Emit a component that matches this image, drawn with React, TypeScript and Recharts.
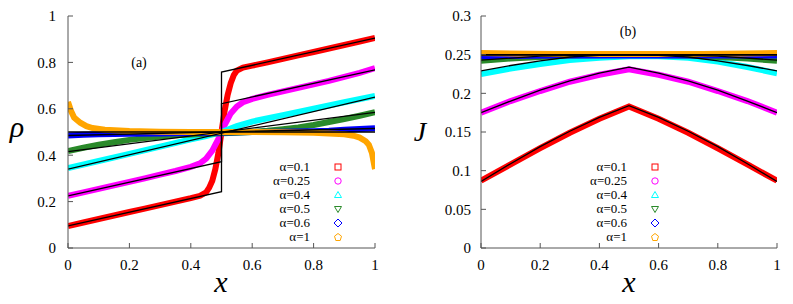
import React from "react";
import { ComposedChart, Line, XAxis, YAxis, Legend } from "recharts";

const SERIF = "Liberation Serif, Times New Roman, Tinos, Times, Noto Serif, DejaVu Serif, serif";

const alphaLabels = ["α=0.1", "α=0.25", "α=0.4", "α=0.5", "α=0.6", "α=1"];
const seriesColors = ["#ff0000", "#ff00ff", "#00ffff", "#2a8a2a", "#0000ff", "#ffa500"];
const markerShapes = ["square", "circle", "triangle", "triangleDown", "diamond", "pentagon"];

const xTicks = [0, 0.2, 0.4, 0.6, 0.8, 1];
const rhoTicks = [0, 0.2, 0.4, 0.6, 0.8, 1];
const jTicks = [0, 0.05, 0.1, 0.15, 0.2, 0.25, 0.3];

// (a) density profiles, simulation
const rho01 = [[0, 0.095], [0.05, 0.11], [0.1, 0.125], [0.15, 0.14], [0.2, 0.155], [0.25, 0.17], [0.3, 0.185], [0.35, 0.2], [0.4, 0.215], [0.43, 0.225], [0.45, 0.24], [0.46, 0.26], [0.47, 0.29], [0.48, 0.34], [0.49, 0.41], [0.5, 0.5], [0.51, 0.59], [0.52, 0.66], [0.53, 0.71], [0.54, 0.745], [0.55, 0.765], [0.57, 0.778], [0.6, 0.786], [0.65, 0.8], [0.7, 0.815], [0.75, 0.83], [0.8, 0.845], [0.85, 0.86], [0.9, 0.875], [0.95, 0.89], [1, 0.905]];
const rho025 = [[0, 0.225], [0.05, 0.24], [0.1, 0.255], [0.15, 0.27], [0.2, 0.285], [0.25, 0.3], [0.3, 0.316], [0.35, 0.332], [0.4, 0.35], [0.43, 0.365], [0.45, 0.385], [0.47, 0.42], [0.48, 0.445], [0.49, 0.47], [0.5, 0.5], [0.51, 0.53], [0.52, 0.555], [0.53, 0.58], [0.55, 0.61], [0.57, 0.628], [0.6, 0.643], [0.65, 0.66], [0.7, 0.675], [0.75, 0.69], [0.8, 0.705], [0.85, 0.72], [0.9, 0.738], [0.95, 0.755], [1, 0.775]];
const rho04 = [[0, 0.345], [0.1, 0.375], [0.2, 0.406], [0.3, 0.437], [0.4, 0.468], [0.45, 0.482], [0.5, 0.5], [0.55, 0.525], [0.6, 0.545], [0.7, 0.573], [0.8, 0.6], [0.9, 0.628], [1, 0.655]];
const rho05 = [[0, 0.418], [0.05, 0.432], [0.1, 0.445], [0.15, 0.456], [0.2, 0.466], [0.25, 0.474], [0.3, 0.481], [0.35, 0.486], [0.4, 0.489], [0.45, 0.492], [0.5, 0.495], [0.55, 0.497], [0.6, 0.5], [0.65, 0.505], [0.7, 0.512], [0.75, 0.52], [0.8, 0.53], [0.85, 0.543], [0.9, 0.556], [0.95, 0.57], [1, 0.585]];
const rho06 = [[0, 0.485], [0.05, 0.488], [0.1, 0.49], [0.2, 0.492], [0.3, 0.494], [0.4, 0.496], [0.5, 0.498], [0.6, 0.5], [0.7, 0.501], [0.8, 0.503], [0.85, 0.505], [0.9, 0.51], [0.95, 0.513], [1, 0.516]];
const rho1 = [[0, 0.63], [0.005, 0.61], [0.01, 0.59], [0.02, 0.562], [0.04, 0.54], [0.06, 0.525], [0.08, 0.517], [0.12, 0.51], [0.2, 0.504], [0.3, 0.501], [0.4, 0.5], [0.5, 0.5], [0.6, 0.5], [0.7, 0.499], [0.8, 0.497], [0.85, 0.494], [0.9, 0.49], [0.93, 0.484], [0.95, 0.476], [0.97, 0.46], [0.98, 0.445], [0.99, 0.41], [1, 0.34]];

// (a) theory
const rhoTh01 = [[0, 0.095], [0.5, 0.243], [0.5, 0.758], [1, 0.905]];
const rhoTh025 = [[0, 0.225], [0.5, 0.372], [0.5, 0.622], [1, 0.768]];
const rhoTh04 = [[0, 0.34], [1, 0.65]];
const rhoTh05 = [[0, 0.415], [1, 0.585]];
const rhoTh06 = [[0, 0.485], [1, 0.515]];
const rhoTh1 = [[0, 0.5], [1, 0.5]];

// (b) current profiles, simulation
const j01 = [[0, 0.087], [0.1, 0.108], [0.2, 0.129], [0.3, 0.149], [0.4, 0.167], [0.5, 0.183], [0.6, 0.167], [0.7, 0.149], [0.8, 0.129], [0.9, 0.108], [1, 0.087]];
const j025 = [[0, 0.175], [0.1, 0.19], [0.2, 0.203], [0.3, 0.215], [0.4, 0.224], [0.5, 0.231], [0.6, 0.224], [0.7, 0.215], [0.8, 0.203], [0.9, 0.19], [1, 0.175]];
const j04 = [[0, 0.225], [0.1, 0.232], [0.2, 0.238], [0.3, 0.243], [0.4, 0.246], [0.5, 0.248], [0.6, 0.248], [0.7, 0.246], [0.8, 0.241], [0.9, 0.234], [1, 0.226]];
const j05 = [[0, 0.242], [0.1, 0.245], [0.2, 0.247], [0.3, 0.249], [0.5, 0.25], [0.7, 0.249], [0.8, 0.247], [0.9, 0.245], [1, 0.242]];
const j06 = [[0, 0.248], [0.25, 0.249], [0.5, 0.249], [0.75, 0.249], [1, 0.249]];
const j1 = [[0, 0.252], [0.25, 0.251], [0.5, 0.251], [0.75, 0.251], [1, 0.252]];

// (b) theory
const jTh01 = [[0, 0.086], [0.1, 0.109], [0.2, 0.131], [0.3, 0.151], [0.4, 0.169], [0.5, 0.184], [0.6, 0.169], [0.7, 0.151], [0.8, 0.131], [0.9, 0.109], [1, 0.086]];
const jTh025 = [[0, 0.175], [0.1, 0.19], [0.2, 0.204], [0.3, 0.216], [0.4, 0.226], [0.5, 0.234], [0.6, 0.226], [0.7, 0.216], [0.8, 0.204], [0.9, 0.19], [1, 0.175]];
const jTh04 = [[0, 0.229], [0.1, 0.236], [0.2, 0.242], [0.3, 0.247], [0.4, 0.249], [0.5, 0.25], [0.6, 0.249], [0.7, 0.247], [0.8, 0.242], [0.9, 0.236], [1, 0.229]];
const jTh05 = [[0, 0.243], [0.2, 0.248], [0.5, 0.25], [0.8, 0.248], [1, 0.243]];
const jTh06 = [[0, 0.2495], [1, 0.2495]];
const jTh1 = [[0, 0.25], [1, 0.25]];

const toPts = (arr: number[][]) => arr.map(([x, y]) => ({ x, y }));

const rhoSeries = [rho01, rho025, rho04, rho05, rho06, rho1];
const rhoTheory = [rhoTh01, rhoTh025, rhoTh04, rhoTh05, rhoTh06, rhoTh1];
const jSeries = [j01, j025, j04, j05, j06, j1];
const jTheory = [jTh01, jTh025, jTh04, jTh05, jTh06, jTh1];

const AXIS = "#555";
const tickStyle = { fill: "#000", fontSize: 15, fontFamily: SERIF };

function Marker({ shape, color }: { shape: string; color: string }) {
  const p = { fill: "none", stroke: color, strokeWidth: 1 };
  let el;
  if (shape === "square") el = <rect x={2} y={2} width={6} height={6} {...p} />;
  else if (shape === "circle") el = <circle cx={5} cy={5} r={3.2} {...p} />;
  else if (shape === "triangle") el = <polygon points="5,1.5 8.5,7.5 1.5,7.5" {...p} />;
  else if (shape === "triangleDown") el = <polygon points="1.5,2.5 8.5,2.5 5,8.5" {...p} />;
  else if (shape === "diamond") el = <polygon points="5,1 9,5 5,9 1,5" {...p} />;
  else el = <polygon points="5,1.5 8.5,4.2 7.2,8.5 2.8,8.5 1.5,4.2" {...p} />;
  return (
    <svg width={10} height={10} style={{ display: "block" }}>
      {el}
    </svg>
  );
}

const renderLegend = () => (
  <div style={{ fontFamily: SERIF, fontSize: 13, color: "#000" }}>
    {alphaLabels.map((lab, i) => (
      <div key={lab} style={{ display: "flex", alignItems: "center", height: 14 }}>
        <span style={{ width: 60, textAlign: "right", lineHeight: "14px" }}>{lab}</span>
        <span style={{ width: 23 }} />
        <Marker shape={markerShapes[i]} color={seriesColors[i]} />
      </div>
    ))}
  </div>
);

interface PanelProps {
  width: number;
  margin: { top: number; right: number; bottom: number; left: number };
  yWidth: number;
  yTickMargin: number;
  yTicks: number[];
  yDomain: [number, number];
  series: number[][][];
  theory: number[][][];
  legendLeft: number;
  children?: React.ReactNode;
}

function Panel(props: PanelProps) {
  const { width, margin, yWidth, yTickMargin, yTicks, yDomain, series, theory, legendLeft } = props;
  return (
    <ComposedChart width={width} height={304} margin={margin}>
      <XAxis
        dataKey="x"
        type="number"
        domain={[0, 1]}
        ticks={xTicks}
        interval={0}
        height={56}
        tickSize={-5}
        tickMargin={16}
        stroke={AXIS}
        tick={tickStyle}
        allowDataOverflow
      />
      <XAxis xAxisId="top" orientation="top" type="number" domain={[0, 1]} ticks={xTicks} interval={0} height={0} tickSize={-5} tick={false} stroke={AXIS} />
      <YAxis
        type="number"
        domain={yDomain}
        ticks={yTicks}
        interval={0}
        width={yWidth}
        tickSize={-5}
        tickMargin={yTickMargin}
        stroke={AXIS}
        tick={tickStyle}
        allowDataOverflow
      />
      <YAxis yAxisId="right" orientation="right" type="number" domain={yDomain} ticks={yTicks} interval={0} width={0} tickSize={-5} tick={false} stroke={AXIS} />
      <Legend
        content={renderLegend}
        layout="horizontal"
        verticalAlign="middle"
        align="center"
        wrapperStyle={{ left: legendLeft, top: 160, width: 100 }}
      />
      {series.map((s, i) => (
        <Line
          key={`s-${i}`}
          data={toPts(s)}
          dataKey="y"
          type="linear"
          stroke={seriesColors[i]}
          strokeWidth={6}
          dot={false}
          activeDot={false}
          isAnimationActive={false}
        />
      ))}
      {theory.map((s, i) => (
        <Line
          key={`t-${i}`}
          data={toPts(s)}
          dataKey="y"
          type="linear"
          stroke="#000"
          strokeWidth={1.3}
          dot={false}
          activeDot={false}
          isAnimationActive={false}
        />
      ))}
      {props.children}
    </ComposedChart>
  );
}

export default function App() {
  return (
    <div style={{ position: "absolute", left: 0, top: 0, width: 793, height: 304, background: "#fff" }}>
      <div style={{ position: "absolute", left: 0, top: 0 }}>
        <Panel
          width={400}
          margin={{ top: 16, right: 25, bottom: 0, left: 0 }}
          yWidth={68}
          yTickMargin={17}
          yTicks={rhoTicks}
          yDomain={[0, 1]}
          series={rhoSeries}
          theory={rhoTheory}
          legendLeft={250}
        >
          <text x={17} y={137} textAnchor="middle" fontFamily={SERIF} fontStyle="italic" fontSize={30}>ρ</text>
          <text x={221} y={292} textAnchor="middle" fontFamily={SERIF} fontStyle="italic" fontSize={30}>x</text>
          <text x={139} y={67} textAnchor="middle" fontFamily={SERIF} fontSize={14}>(a)</text>
        </Panel>
      </div>
      <div style={{ position: "absolute", left: 400, top: 0 }}>
        <Panel
          width={393}
          margin={{ top: 16, right: 16, bottom: 0, left: 0 }}
          yWidth={81}
          yTickMargin={15}
          yTicks={jTicks}
          yDomain={[0, 0.3]}
          series={jSeries}
          theory={jTheory}
          legendLeft={167}
        >
          <text x={20} y={141} textAnchor="middle" fontFamily={SERIF} fontStyle="italic" fontSize={28}>J</text>
          <text x={229} y={292} textAnchor="middle" fontFamily={SERIF} fontStyle="italic" fontSize={30}>x</text>
          <text x={228} y={36} textAnchor="middle" fontFamily={SERIF} fontSize={14}>(b)</text>
        </Panel>
      </div>
    </div>
  );
}
